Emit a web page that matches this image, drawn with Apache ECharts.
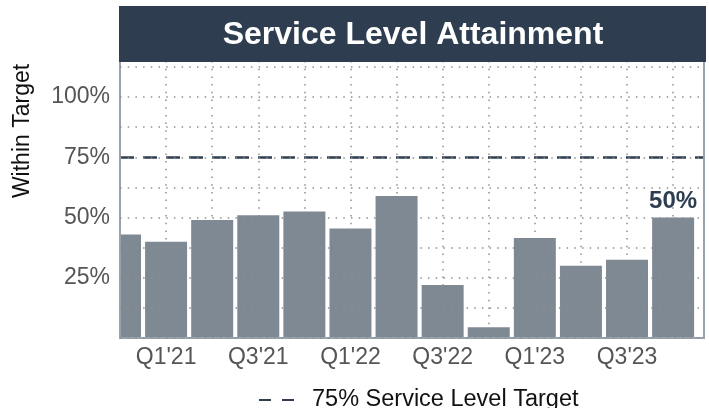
<!DOCTYPE html>
<html>
<head>
<meta charset="utf-8">
<script src="https://cdn.jsdelivr.net/npm/echarts@6/dist/echarts.min.js"></script>
<style>
  html, body { margin: 0; padding: 0; background: #fff; }
  #main { width: 709px; height: 408px; }
</style>
</head>
<body>
<div id="main"></div>
<script>
// quarters shown on the x axis (first one is cut by the left edge)
const quarters = ["Q4'20", "Q1'21", "Q2'21", "Q3'21", "Q4'21", "Q1'22", "Q2'22",
                  "Q3'22", "Q4'22", "Q1'23", "Q2'23", "Q3'23", "Q4'23"];
// % of tickets within target
const attainment = [43, 40, 49, 51, 52.5, 45.5, 59, 22, 4.5, 41.5, 30, 32.5, 50];
const targetValue = 75;
const targetName = '75% Service Level Target';
const yTicks = [25, 50, 75, 100];

const navy = '#2e3e50';
const gridDots = { color: '#8f8f8f', width: 1.5, type: [1.5, 6.2] };

const chart = echarts.init(document.getElementById('main'));

// bars as [quarter index, value]
const barData = attainment.map((v, i) => {
    const item = { value: [i, v] };
    if (i === attainment.length - 1) {
        item.label = {
            show: true,
            position: 'top',
            distance: 4,
            formatter: v + '%',
            color: navy,
            fontWeight: 'bold',
            fontSize: 24,
            fontFamily: 'Liberation Sans'
        };
    }
    return item;
});

chart.setOption({
    animation: false,
    textStyle: { fontFamily: 'Liberation Sans' },
    title: {
        text: 'Service Level Attainment',
        left: 408,
        top: 14,
        z: 120,
        textAlign: 'center',
        textStyle: { color: '#fff', fontSize: 32, fontWeight: 'bold', fontFamily: 'Liberation Sans' }
    },
    graphic: [{
        // header band
        type: 'rect',
        z: 100,
        shape: { x: 119, y: 6, width: 587, height: 56 },
        style: { fill: navy }
    }, {
        // hides the part of the first bar left of the plot (value axes do not clip it)
        type: 'rect',
        z: 5,
        shape: { x: 0, y: 55, width: 120, height: 290 },
        style: { fill: '#fff' }
    }],
    legend: {
        left: 253,
        top: 383,
        itemWidth: 48,
        itemHeight: 14,
        data: [targetName],
        itemStyle: { opacity: 0 },
        textStyle: { fontSize: 23.5, color: '#111', fontFamily: 'Liberation Sans' }
    },
    grid: {
        left: 120, right: 5, top: 61, bottom: 70,
        z: 10,
        show: true,
        borderColor: '#98a2ac',
        borderWidth: 2
    },
    xAxis: {
        type: 'value',
        min: 0,
        max: 12.67,
        interval: 1,
        axisLine: { show: false },
        axisTick: { show: false },
        axisLabel: {
            margin: 8,
            fontSize: 23,
            color: '#555',
            showMaxLabel: false,
            formatter: v => (Number.isInteger(v) && v % 2 === 1) ? quarters[v] : ''
        },
        splitLine: { show: true, lineStyle: gridDots }
    },
    yAxis: {
        type: 'value',
        min: 0,
        max: 115,
        interval: 12.5,
        z: 10,
        name: 'Within Target',
        nameLocation: 'middle',
        nameGap: 86,
        nameTextStyle: { fontSize: 23, color: '#111', padding: [0, 0, 0, 137] },
        axisLine: { show: false },
        axisTick: { show: false },
        axisLabel: {
            margin: 10,
            fontSize: 23,
            color: '#555',
            formatter: v => yTicks.includes(v) ? v + '%' : ''
        },
        splitLine: { show: true, lineStyle: gridDots }
    },
    series: [{
        type: 'bar',
        name: 'Attainment',
        data: barData,
        barWidth: 42,
        clip: true,
        itemStyle: { color: '#7f8993' }
    }, {
        type: 'line',
        name: targetName,
        data: [],
        symbol: 'none',
        lineStyle: { color: navy, width: 2.5, type: [12, 11, 12, 13] },
        itemStyle: { color: navy },
        markLine: {
            silent: true,
            symbol: 'none',
            label: { show: false },
            lineStyle: { color: navy, width: 2.5, type: [14, 9] },
            data: [{ yAxis: targetValue }]
        }
    }]
});
</script>
</body>
</html>
